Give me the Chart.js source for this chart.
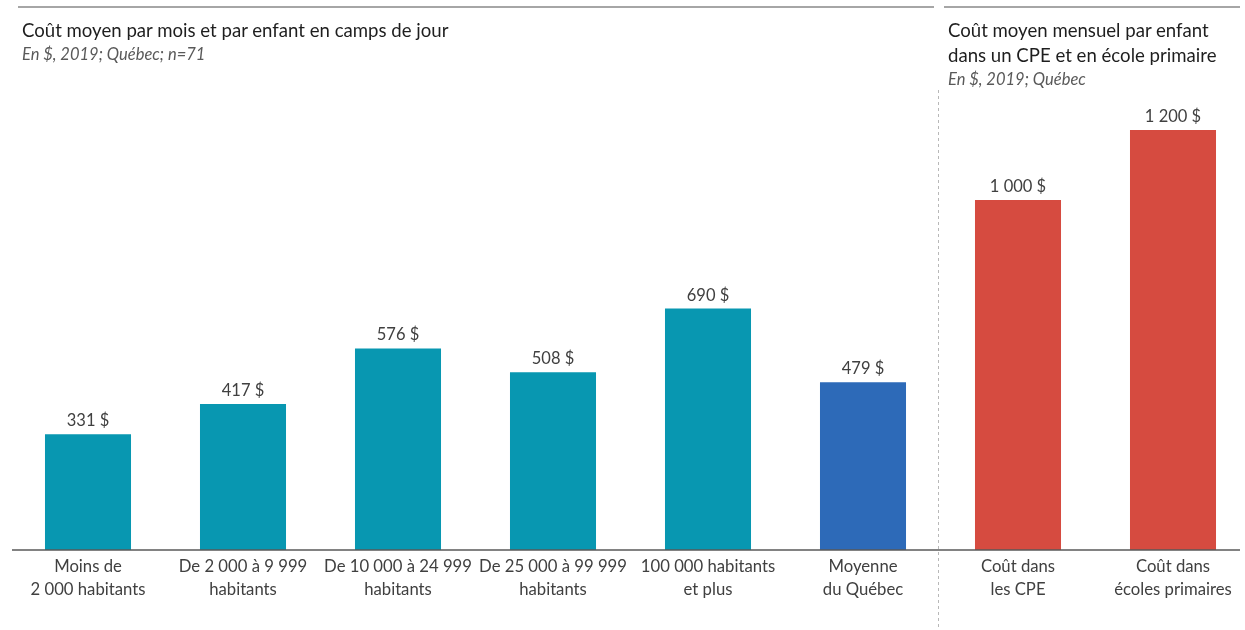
<!DOCTYPE html>
<html lang="fr">
<head>
<meta charset="utf-8">
<script src="https://cdn.jsdelivr.net/npm/chart.js@4.4.1/dist/chart.umd.min.js"></script>
<style>
  html, body { margin: 0; padding: 0; background: #fff; overflow: hidden; }
  #wrap { position: relative; width: 1245px; height: 630px; }
  #cv { position: absolute; left: 0; top: 0; }
  .title { position: absolute; font-family: Lato, "Open Sans", sans-serif; color: #1e1e1e; font-size: 18.6px; line-height: 25px; }
  .sub { font-style: italic; color: #595959; font-size: 16.5px; line-height: 22px; }
</style>
</head>
<body>
<div id="wrap">
  <canvas id="cv" width="1262" height="630" style="width:1262px;height:630px"></canvas>
  <div class="title" style="left:22px; top:18px;">Coût moyen par mois et par enfant en camps de jour<div class="sub">En $, 2019; Québec; n=71</div></div>
  <div class="title" style="left:948px; top:18px;">Coût moyen mensuel par enfant<br>dans un CPE et en école primaire<div class="sub">En $, 2019; Québec</div></div>
</div>
<script>
// categories (two lines each)
const categories = [
  ["Moins de", "2 000 habitants"],
  ["De 2 000 à 9 999", "habitants"],
  ["De 10 000 à 24 999", "habitants"],
  ["De 25 000 à 99 999", "habitants"],
  ["100 000 habitants", "et plus"],
  ["Moyenne", "du Québec"],
  ["Coût dans", "les CPE"],
  ["Coût dans", "écoles primaires"]
];
const values = [331, 417, 576, 508, 690, 479, 1000, 1200];
const valueLabels = ["331 $", "417 $", "576 $", "508 $", "690 $", "479 $", "1 000 $", "1 200 $"];
const barColors = ["#0897b1", "#0897b1", "#0897b1", "#0897b1", "#0897b1", "#2d6ab8", "#d64b40", "#d64b40"];

// value labels above bars
const valueLabelPlugin = {
  id: "valueLabels",
  afterDatasetsDraw(chart) {
    const ctx = chart.ctx;
    const meta = chart.getDatasetMeta(0);
    ctx.save();
    ctx.font = "16.5px Lato, 'Open Sans', sans-serif";
    ctx.fillStyle = "#404040";
    ctx.textAlign = "center";
    ctx.textBaseline = "bottom";
    meta.data.forEach((bar, i) => {
      ctx.fillText(valueLabels[i], bar.x, bar.y - 5);
    });
    ctx.restore();
  }
};

// rules: top lines, dashed separator, baseline
const decoPlugin = {
  id: "deco",
  afterDraw(chart) {
    const ctx = chart.ctx;
    const area = chart.chartArea;
    ctx.save();
    ctx.strokeStyle = "#a6a6a6";
    ctx.lineWidth = 2;
    ctx.beginPath();
    ctx.moveTo(18, 7); ctx.lineTo(934, 7);
    ctx.moveTo(944, 7); ctx.lineTo(1240, 7);
    ctx.stroke();

    ctx.strokeStyle = "#b8b8b8";
    ctx.lineWidth = 1;
    ctx.setLineDash([3, 3]);
    ctx.beginPath();
    ctx.moveTo(938.5, 90); ctx.lineTo(938.5, 630);
    ctx.stroke();
    ctx.setLineDash([]);

    ctx.strokeStyle = "#595959";
    ctx.lineWidth = 1.5;
    ctx.beginPath();
    ctx.moveTo(12, area.bottom); ctx.lineTo(1240, area.bottom);
    ctx.stroke();
    ctx.restore();
  }
};

new Chart(document.getElementById("cv"), {
  type: "bar",
  data: {
    labels: categories,
    datasets: [{
      data: values,
      backgroundColor: barColors,
      barPercentage: 0.555,
      categoryPercentage: 1
    }]
  },
  options: {
    responsive: false,
    animation: false,
    layout: { padding: { left: 10.5, right: 11.5, top: 60, bottom: 0 } },
    plugins: { legend: { display: false }, tooltip: { enabled: false } },
    scales: {
      x: {
        grid: { display: false, drawTicks: false },
        border: { display: false },
        ticks: {
          color: "#404040",
          padding: 5,
          maxRotation: 0,
          autoSkip: false,
          font: { family: "Lato, 'Open Sans', sans-serif", size: 16.7, lineHeight: 1.38 }
        },
        afterFit(scale) { scale.height = 80; }
      },
      y: {
        display: false,
        min: 0,
        max: 1400
      }
    }
  },
  plugins: [valueLabelPlugin, decoPlugin]
});
</script>
</body>
</html>
